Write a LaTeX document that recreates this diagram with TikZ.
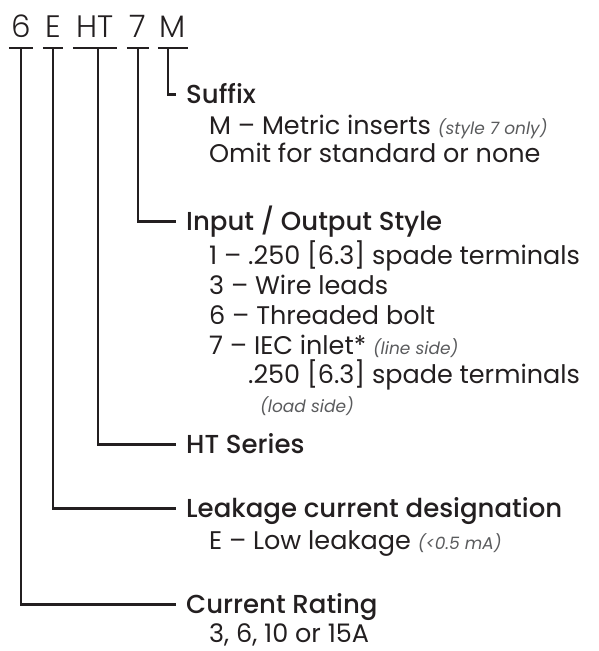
\documentclass[tikz,border=0pt]{standalone}
\usepackage{fontspec}
\setmainfont{Poppins}
\newfontfamily\headfont{Poppins Medium}
\newfontfamily\codefont{Poppins Light}
\usepackage{xcolor}
\usetikzlibrary{positioning}
\definecolor{ink}{HTML}{231F20}
\definecolor{note}{HTML}{5A5B5D}
\newcommand{\aside}[1]{{\fontsize{17}{19}\selectfont\itshape\color{note}#1}}

\begin{document}
\begin{tikzpicture}[x=1pt,y=-1pt,
    every node/.style={inner sep=0pt, text=ink},
    code/.style={font=\codefont\fontsize{31}{31}\selectfont, anchor=base,
        text height=22pt, text depth=11pt},
    head/.style={font=\headfont\fontsize{26}{26}\selectfont, anchor=base west,
        text height=17pt, text depth=0pt},
    item/.style={font=\fontsize{25.5}{26}\selectfont, anchor=base west},
    rule/.style={draw=ink, line width=2.2pt},
    leg/.style={rule, shorten >=10pt}]
        \useasboundingbox (0,0) rectangle (598,651);

        \node[code, minimum width=24pt] (c6) at (21,37) {6};
        \node[code, minimum width=20pt] (cE) at (53,37) {E};
        \node[code, minimum width=44pt] (cHT) at (95,37) {HT};
        \node[code, minimum width=22pt] (c7) at (138,37) {7};
        \node[code, minimum width=30pt] (cM) at (173,37) {M};
        \draw[rule] (c6.south west) -- (c6.south east);
        \draw[rule] (cE.south west) -- (cE.south east);
        \draw[rule] (cHT.south west) -- (cHT.south east);
        \draw[rule] (c7.south west) -- (c7.south east);
        \draw[rule] (cM.south west) -- (cM.south east);

        \node[head] (suffix) at (186,103) {Suffix};
        \node[item] (metric) at (209,134) {M – Metric inserts \aside{(style 7 only)}};
        \node[item] (omit) at (209,162) {Omit for standard or none};

        \node[head] (style) at (186,230) {Input / Output Style};
        \node[item] (s1) at (209,264) {1 – .250 [6.3] spade terminals};
        \node[item] (s3) at (209,294) {3 – Wire leads};
        \node[item] (s6) at (209,324) {6 – Threaded bolt};
        \node[item] (s7) at (209,354) {7 – IEC inlet* \aside{(line side)}};
        \node[item] (s7b) at (248,383) {.250 [6.3] spade terminals};
        \node[item] (s7c) at (260,412) {\aside{(load side)}};

        \node[head] (series) at (186,453) {HT Series};

        \node[head] (leak) at (186,517) {Leakage current designation};
        \node[item] (low) at (209,549) {E – Low leakage \aside{(<0.5 mA)}};

        \node[head] (rating) at (186,613) {Current Rating};
        \node[item] (amps) at (209,642) {3, 6, 10 or 15A};

        \draw[leg] ([xshift=-5pt]cM.south) |- (suffix.west);
        \draw[leg] (c7.south) |- (style.west);
        \draw[leg] ([xshift=3pt]cHT.south) |- (series.west);
        \draw[leg] (cE.south) |- (leak.west);
        \draw[leg] (c6.south) |- (rating.west);
\end{tikzpicture}
\end{document}
